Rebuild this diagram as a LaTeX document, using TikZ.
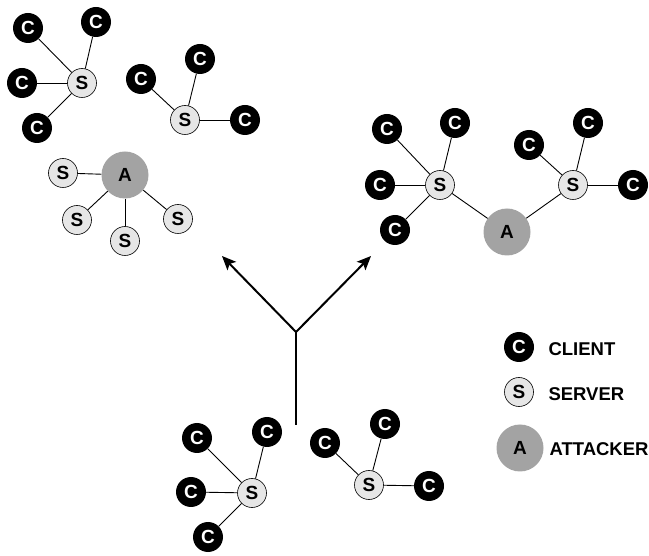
\documentclass[tikz,border=0pt]{standalone}
\usepackage{fontspec}
\setmainfont{Liberation Sans}
\usetikzlibrary{arrows.meta}
\definecolor{srvfill}{HTML}{E6E6E6}
\definecolor{atkfill}{HTML}{A3A3A3}
\begin{document}
\begin{tikzpicture}[x=1pt,y=-1pt,
  letter/.style={font=\bfseries\fontsize{19}{19}\selectfont},
  client/.style={circle,fill=black,text=white,minimum size=30pt,inner sep=0pt,letter},
  server/.style={circle,draw=black,line width=0.6pt,fill=srvfill,minimum size=29pt,inner sep=0pt,letter},
  attacker/.style={circle,fill=atkfill,minimum size=47pt,inner sep=0pt,letter},
  link/.style={line width=0.9pt},
  flow/.style={line width=2pt,-{Stealth[length=14pt,width=12pt,inset=3pt]}},
  stem/.style={line width=2pt},
  legendtext/.style={anchor=west,font=\bfseries\fontsize{18.5}{18.5}\selectfont}
]
\useasboundingbox (0,0) rectangle (649,556);

% top-left server with four clients
\node[server] (s1) at (82,83) {S};
\node[client] (c11) at (28,28) {C};
\node[client] (c12) at (96,22) {C};
\node[client] (c13) at (22,83) {C};
\node[client] (c14) at (37,128) {C};
\foreach \c in {c11,c12,c13,c14} \draw[link] (s1) -- (\c);

% top server with three clients
\node[server] (s2) at (185,120) {S};
\node[client] (c21) at (141,79) {C};
\node[client] (c22) at (200,59) {C};
\node[client] (c23) at (245,120) {C};
\foreach \c in {c21,c22,c23} \draw[link] (s2) -- (\c);

% attacker impersonating clients to servers
\node[attacker] (a1) at (125,175) {A};
\node[server] (s31) at (63,173) {S};
\node[server] (s32) at (77,220) {S};
\node[server] (s33) at (125,241) {S};
\node[server] (s34) at (178,219) {S};
\foreach \s in {s31,s32,s33,s34} \draw[link] (a1) -- (\s);

% attacker between two servers
\node[server] (s4) at (440,185) {S};
\node[client] (c41) at (387,129) {C};
\node[client] (c42) at (455,123) {C};
\node[client] (c43) at (380,185) {C};
\node[client] (c44) at (395,230) {C};
\foreach \c in {c41,c42,c43,c44} \draw[link] (s4) -- (\c);
\node[attacker] (a2) at (507,232) {A};
\node[server] (s5) at (573,185) {S};
\node[client] (c51) at (529,145) {C};
\node[client] (c52) at (588,123) {C};
\node[client] (c53) at (633,185) {C};
\foreach \c in {c51,c52,c53} \draw[link] (s5) -- (\c);
\draw[link] (s4) -- (a2);
\draw[link] (a2) -- (s5);

% forking arrows
\coordinate (base) at (296,425);
\coordinate (fork) at (296,332);
\coordinate (tipL) at (222,256);
\coordinate (tipR) at (371,256);
\draw[stem] (base) -- (fork);
\draw[flow] (fork) -- (tipL);
\draw[flow] (fork) -- (tipR);

% bottom: original network
\node[server] (s6) at (252,493) {S};
\node[client] (c61) at (197,438) {C};
\node[client] (c62) at (267,432) {C};
\node[client] (c63) at (191,492) {C};
\node[client] (c64) at (208,537) {C};
\foreach \c in {c61,c62,c63,c64} \draw[link] (s6) -- (\c);
\node[server] (s7) at (369,485) {S};
\node[client] (c71) at (325,443) {C};
\node[client] (c72) at (385,424) {C};
\node[client] (c73) at (429,486) {C};
\foreach \c in {c71,c72,c73} \draw[link] (s7) -- (\c);

% legend
\node[client] (lc) at (519,347) {C};
\node[server] (ls) at (519,392) {S};
\node[attacker] (la) at (520,448) {A};
\node[legendtext] (lct) at (545,349) {CLIENT};
\node[legendtext] (lst) at (545,394) {SERVER};
\node[legendtext] (lat) at (546,449) {ATTACKER};
\end{tikzpicture}
\end{document}
